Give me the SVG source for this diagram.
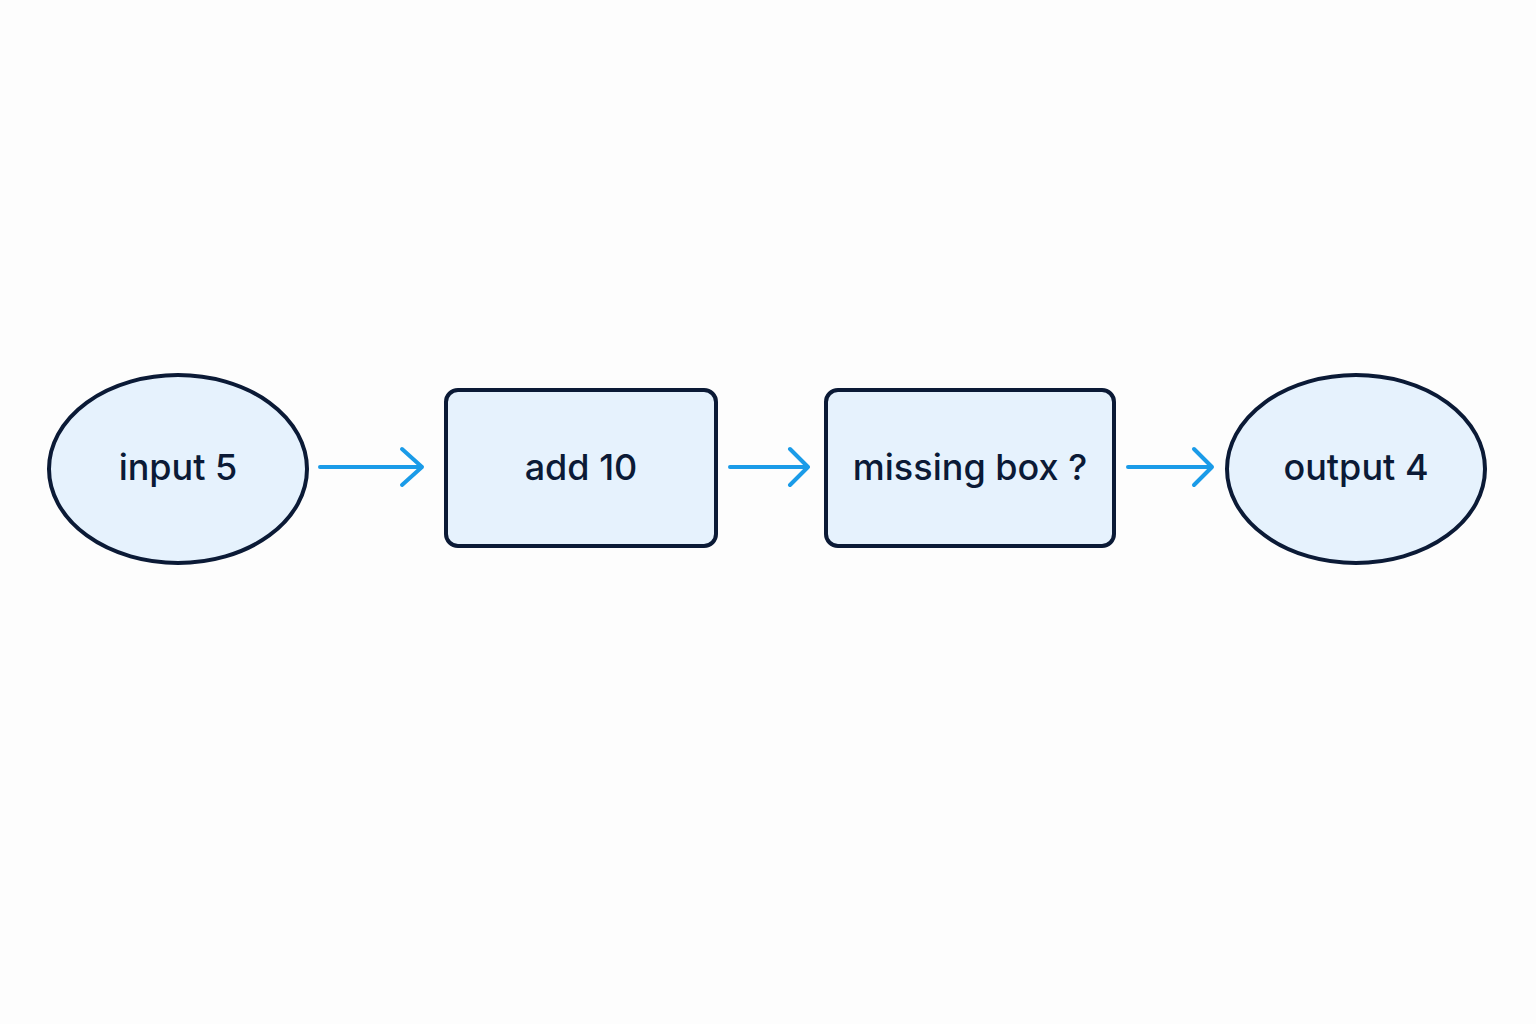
<svg xmlns="http://www.w3.org/2000/svg" width="1536" height="1024" viewBox="0 0 1536 1024">
<style>
.n{fill:#e6f2fd;stroke:#0b1a36;stroke-width:4}
.t{font-family:Inter,"Liberation Sans",sans-serif;font-size:36px;font-weight:500;fill:#0b1a36;text-anchor:middle;dominant-baseline:central}
.c{stroke:#1a9be8;stroke-width:4;fill:none;stroke-linecap:round;stroke-linejoin:round}
</style>
<rect width="1536" height="1024" fill="#fdfdfd"/>
<g id="input"><ellipse class="n" cx="178" cy="469" rx="129" ry="94"/><text class="t" x="178" y="467">input 5</text></g>
<g id="add"><rect class="n" x="446" y="390" width="270" height="156" rx="12"/><text class="t" x="581" y="467">add 10</text></g>
<g id="missing"><rect class="n" x="826" y="390" width="288" height="156" rx="12"/><text class="t" x="970" y="467">missing box ?</text></g>
<g id="output"><ellipse class="n" cx="1356" cy="469" rx="129" ry="94"/><text class="t" x="1356" y="467">output 4</text></g>
<g id="connectors">
<path class="c" d="M320 467H422M402 449L422 467L402 485"/>
<path class="c" d="M730 467H808M790 449L808 467L790 485"/>
<path class="c" d="M1128 467H1212M1194 449L1212 467L1194 485"/>
</g>
</svg>
